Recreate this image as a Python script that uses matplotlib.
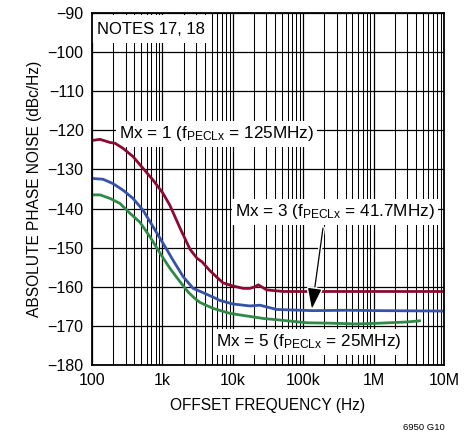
import matplotlib
matplotlib.use("Agg")
import matplotlib.pyplot as plt
import matplotlib.patheffects as pe
from matplotlib.ticker import FixedLocator, LogLocator, NullFormatter

plt.rcParams["font.family"] = ["Liberation Sans", "DejaVu Sans"]
plt.rcParams["mathtext.fontset"] = "custom"
plt.rcParams["mathtext.rm"] = "Liberation Sans"
plt.rcParams["mathtext.it"] = "Liberation Sans"

# curve data (offset freq in Hz, noise in dBc/Hz)
freq_m1 = [100, 130, 180, 212, 276, 382, 530, 735, 1020, 1280, 1780, 2465, 3100, 3650, 4740,
           5970, 7260, 10070, 14000, 17540, 20650, 23000, 30300, 52100, 173000, 1.23e6, 1e7]
noise_m1 = [-122.6, -122.3, -123.1, -123.3, -124.6, -126.7, -129.7, -132.7, -136.1, -139.2, -145.0,
            -150.4, -152.7, -153.6, -155.9, -157.6, -159.0, -159.8, -160.4, -160.4, -160.0, -159.5,
            -160.8, -161.2, -161.2, -161.2, -161.2]

freq_m3 = [100, 143, 198, 276, 382, 530, 605, 837, 1165, 1415, 1970, 2730, 3780, 4740, 5200, 6580,
           10070, 17540, 24300, 42000, 137800, 415000, 1.23e6, 1e7]
noise_m3 = [-132.3, -132.5, -133.6, -135.3, -137.4, -140.4, -142.1, -146.3, -150.6, -153.2, -157.4,
            -160.4, -161.5, -162.3, -162.6, -163.5, -164.4, -164.9, -164.7, -165.8, -166.1, -166.0,
            -166.1, -166.2]

freq_m5 = [100, 130, 180, 250, 346, 480, 665, 925, 1280, 1780, 2310, 2900, 3420, 5200, 9130, 12650,
           27100, 46800, 112000, 240000, 575000, 1.23e6, 2.95e6, 4.5e6]
noise_m5 = [-136.5, -136.5, -137.4, -138.7, -141.2, -143.5, -147.2, -151.4, -155.3, -158.7, -161.3,
            -163.0, -164.0, -165.5, -166.8, -167.2, -168.1, -168.5, -169.2, -169.3, -169.5, -169.3,
            -169.0, -168.7]

x_ticks = [100, 1e3, 1e4, 1e5, 1e6, 1e7]
x_labels = ["100", "1k", "10k", "100k", "1M", "10M"]
y_ticks = list(range(-180, -89, 10))

red = "#8c0a32"
blue = "#3553a8"
green = "#2e8b47"

fig = plt.figure(figsize=(4.74, 4.33), dpi=100)
ax = fig.add_axes([0.1941, 0.157, 0.7426, 0.813])

ax.set_xscale("log")
ax.set_xlim(100, 1e7)
ax.set_ylim(-180, -90)

ax.plot(freq_m1, noise_m1, color=red, lw=2.0, zorder=4)
ax.plot(freq_m3, noise_m3, color=blue, lw=2.0, zorder=4)
ax.plot(freq_m5, noise_m5, color=green, lw=2.0, zorder=4)

# grid: decades + minor 2..9, every 10 dB
ax.xaxis.set_major_locator(FixedLocator(x_ticks))
ax.set_xticklabels(x_labels)
ax.xaxis.set_minor_locator(LogLocator(base=10, subs=range(2, 10), numticks=20))
ax.xaxis.set_minor_formatter(NullFormatter())
ax.set_yticks(y_ticks)
ax.set_yticklabels([str(v).replace("-", "\u2212") for v in y_ticks])
ax.grid(True, which="major", color="black", lw=0.9, zorder=1)
ax.grid(True, which="minor", axis="x", color="black", lw=0.75, zorder=1)
ax.tick_params(which="both", length=0, labelsize=11.5)
ax.tick_params(axis="x", pad=6)
ax.tick_params(axis="y", pad=6)
for s in ax.spines.values():
    s.set_linewidth(1.3)
    s.set_zorder(6)

ax.set_xlabel("OFFSET FREQUENCY (Hz)", fontsize=11.2, labelpad=7)
ax.set_ylabel("ABSOLUTE PHASE NOISE (dBc/Hz)", fontsize=11.2, labelpad=4)

box = dict(facecolor="white", edgecolor="none", pad=2.5)
ax.text(690, -94.1, "NOTES 17, 18", fontsize=12, ha="center", va="center",
        bbox=dict(facecolor="white", edgecolor="none", pad=4.5), zorder=3)
ax.text(5870, -120.9, r"Mx = 1 (f$_\mathrm{PECLx}$ = 125MHz)", fontsize=12.3,
        ha="center", va="center", bbox=box, zorder=3)
ax.text(283000, -140.8, r"Mx = 3 (f$_\mathrm{PECLx}$ = 41.7MHz)", fontsize=12.3,
        ha="center", va="center", bbox=box, zorder=3)
ax.text(119700, -174.1, r"Mx = 5 (f$_\mathrm{PECLx}$ = 25MHz)", fontsize=12.3,
        ha="center", va="center", bbox=box, zorder=3)

arr = ax.annotate("", xy=(133000, -165.6), xytext=(191000, -145.0),
                  arrowprops=dict(arrowstyle="-|>,head_length=0.9,head_width=0.3", color="black",
                                  lw=0.9, mutation_scale=14, shrinkA=0, shrinkB=0), zorder=5)
arr.arrow_patch.set_path_effects([pe.Stroke(linewidth=3, foreground="white"), pe.Normal()])

fig.text(445 / 474, 1 - 427 / 433, "6950 G10", fontsize=6.8, ha="right", va="center")

fig.savefig("out.png", dpi=100)
